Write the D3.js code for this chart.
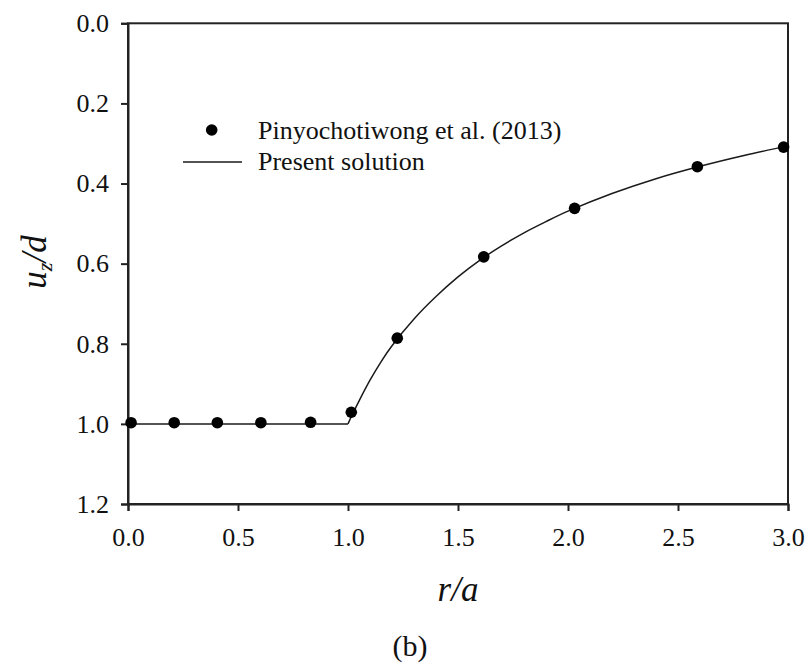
<!DOCTYPE html>
<html>
<head>
<meta charset="utf-8">
<script src="https://cdn.jsdelivr.net/npm/d3@7"></script>
<style>
  html, body { margin: 0; padding: 0; background: #fff; }
  svg { display: block; }
  text { font-family: "Liberation Serif", "Times New Roman", serif; fill: #111; }
</style>
</head>
<body>
<svg id="chart" width="810" height="669"></svg>
<script>
// Measured surface displacement (Pinyochotiwong et al., 2013)
const refR = [0.014, 0.21, 0.406, 0.604, 0.83, 1.015, 1.224, 1.617, 2.03, 2.588, 2.98];
const refU = [0.997, 0.997, 0.997, 0.997, 0.996, 0.971, 0.786, 0.583, 0.462, 0.358, 0.309];

// Present solution: flat under the rigid disk, then decaying outside it
const solR = [0, 1.0, 1.02, 1.05, 1.1, 1.15, 1.2, 1.3, 1.4, 1.5, 1.6, 1.7, 1.8, 1.9, 2.0, 2.2, 2.4, 2.6, 2.8, 3.0];
const solU = [1.0, 1.0, 0.976, 0.943, 0.891, 0.845, 0.805, 0.738, 0.682, 0.633, 0.591, 0.555, 0.523, 0.495, 0.469, 0.425, 0.388, 0.357, 0.330, 0.306];

const xTicks = [0, 0.5, 1.0, 1.5, 2.0, 2.5, 3.0];
const yTicks = [0, 0.2, 0.4, 0.6, 0.8, 1.0, 1.2];
const legendLabels = ["Pinyochotiwong et al. (2013)", "Present solution"];

const svg = d3.select("#chart");
const plotL = 128, plotR = 788, plotT = 23.3, plotB = 504;

const x = d3.scaleLinear().domain([0, 3]).range([plotL, plotR]);
const y = d3.scaleLinear().domain([0, 1.2]).range([plotT, plotB]);

const axisColor = "#222";

// frame
svg.append("rect")
  .attr("x", plotL).attr("y", plotT)
  .attr("width", plotR - plotL).attr("height", plotB - plotT)
  .attr("fill", "none").attr("stroke", axisColor).attr("stroke-width", 2);

// x axis
const gx = svg.append("g")
  .attr("transform", `translate(0,${plotB})`)
  .call(d3.axisBottom(x).tickValues(xTicks).tickFormat(d3.format(".1f"))
    .tickSize(7).tickPadding(17));
// y axis
const gy = svg.append("g")
  .attr("transform", `translate(${plotL},0)`)
  .call(d3.axisLeft(y).tickValues(yTicks).tickFormat(d3.format(".1f"))
    .tickSize(7).tickPadding(12));

[gx, gy].forEach(g => {
  g.select(".domain").attr("stroke", axisColor).attr("stroke-width", 2);
  g.selectAll(".tick line").attr("stroke", axisColor).attr("stroke-width", 2);
  g.selectAll(".tick text")
    .attr("font-family", "'Liberation Serif', 'Times New Roman', serif")
    .attr("font-size", 26).attr("fill", "#111");
});

// solution curve: straight plateau, smooth curve beyond r/a = 1
const pts = solR.map((r, i) => [r, solU[i]]);
const flat = pts.filter(p => p[0] <= 1.0);
const outer = pts.filter(p => p[0] >= 1.0);
const lineFlat = d3.line().x(d => x(d[0])).y(d => y(d[1]));
const lineCurve = d3.line().x(d => x(d[0])).y(d => y(d[1])).curve(d3.curveCatmullRom.alpha(0.5));

svg.append("path").attr("d", lineFlat(flat))
  .attr("fill", "none").attr("stroke", "#1a1a1a").attr("stroke-width", 1.5);
svg.append("path").attr("d", lineCurve(outer))
  .attr("fill", "none").attr("stroke", "#1a1a1a").attr("stroke-width", 1.5);

// reference points
svg.append("g").selectAll("circle")
  .data(refR.map((r, i) => [r, refU[i]]))
  .join("circle")
  .attr("cx", d => x(d[0])).attr("cy", d => y(d[1]))
  .attr("r", 5.8).attr("fill", "#000");

// legend
const lg = svg.append("g");
lg.append("circle").attr("cx", 211.7).attr("cy", 130).attr("r", 5.8).attr("fill", "#000");
lg.append("line").attr("x1", 183).attr("x2", 242).attr("y1", 162).attr("y2", 162)
  .attr("stroke", "#1a1a1a").attr("stroke-width", 1.5);
lg.append("text").attr("x", 258).attr("y", 139).attr("font-size", 26).text(legendLabels[0]);
lg.append("text").attr("x", 258).attr("y", 170).attr("font-size", 26).text(legendLabels[1]);

// axis titles
svg.append("text")
  .attr("x", (plotL + plotR) / 2).attr("y", 601)
  .attr("text-anchor", "middle").attr("font-size", 35).attr("font-style", "italic")
  .text("r/a");

const yl = svg.append("text")
  .attr("transform", `translate(46,262) rotate(-90)`)
  .attr("text-anchor", "middle").attr("font-size", 35).attr("font-style", "italic");
yl.append("tspan").text("u");
yl.append("tspan").attr("font-size", 22).attr("dy", 6).text("z");
yl.append("tspan").attr("dy", -6).text("/d");

// panel tag
svg.append("text")
  .attr("x", 410).attr("y", 656)
  .attr("text-anchor", "middle").attr("font-size", 30)
  .text("(b)");
</script>
</body>
</html>
